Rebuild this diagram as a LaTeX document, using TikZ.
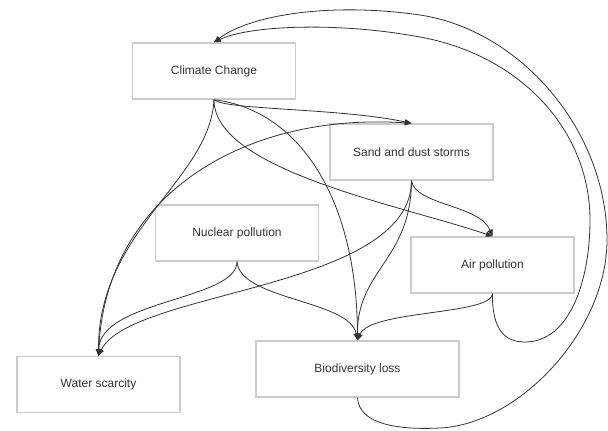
\documentclass[tikz,border=0pt]{standalone}
\usepackage{fontspec}
\setmainfont{Liberation Sans}
\usetikzlibrary{arrows.meta}
\definecolor{boxline}{HTML}{CCCCCC}
\definecolor{txt}{HTML}{333333}
\definecolor{edgec}{HTML}{333333}
\begin{document}
\begin{tikzpicture}[x=0.75pt,y=-0.75pt,
  box/.style={draw=boxline,line width=1.1pt,fill=white,minimum width=122pt,minimum height=42pt,
    font=\fontsize{9}{11}\selectfont,text=txt,inner sep=0pt},
  link/.style={draw=edgec,line width=0.6pt,-{Triangle[length=5pt,width=4pt]}}]
\useasboundingbox (0,0) rectangle (608,430);
\node[box] (cc) at (214,71) {Climate Change};
\node[box] (sand) at (411.5,152) {Sand and dust storms};
\node[box] (air) at (492.5,265) {Air pollution};
\node[box] (nuc) at (237,233) {Nuclear pollution};
\node[box] (water) at (98.5,384.5) {Water scarcity};
\node[box,minimum width=152pt] (bio) at (357.5,369) {Biodiversity loss};
% Climate change out
\draw[link] (cc.south) .. controls (225,110) and (340,108) .. (sand.north);
\draw[link] (cc.south) .. controls (214,170) and (400,205) .. (air.north);
\draw[link] (cc.south) .. controls (300,110) and (357,200) .. (bio.north);
\draw[link] (cc.south) .. controls (210,180) and (98,230) .. (water.north);
% water - sand
\draw[link] (water.north) .. controls (102,195) and (245,112) .. (sand.north);
% sand out
\draw[link] (sand.south) .. controls (415,205) and (480,205) .. (air.north);
\draw[link] (sand.south) .. controls (411,290) and (130,290) .. (water.north);
\draw[link] (sand.south) .. controls (411,260) and (357,270) .. (bio.north);
% nuclear out
\draw[link] (nuc.south) .. controls (237,300) and (100,300) .. (water.north);
\draw[link] (nuc.south) .. controls (240,300) and (350,300) .. (bio.north);
% air out
\draw[link] (air.south) .. controls (492,315) and (370,310) .. (bio.north);
\draw[link] (air.south) .. controls (492,330) and (505,342) .. (525,342)
  .. controls (570,342) and (590,280) .. (590,220)
  .. controls (590,130) and (520,55) .. (420,37)
  .. controls (340,22) and (250,25) .. (cc.north);
% biodiversity out
\draw[link] (bio.south) .. controls (359,425) and (400,430) .. (440,428)
  .. controls (520,424) and (607,330) .. (607,240)
  .. controls (607,130) and (520,30) .. (420,15)
  .. controls (330,2) and (250,15) .. (cc.north);
\end{tikzpicture}
\end{document}
